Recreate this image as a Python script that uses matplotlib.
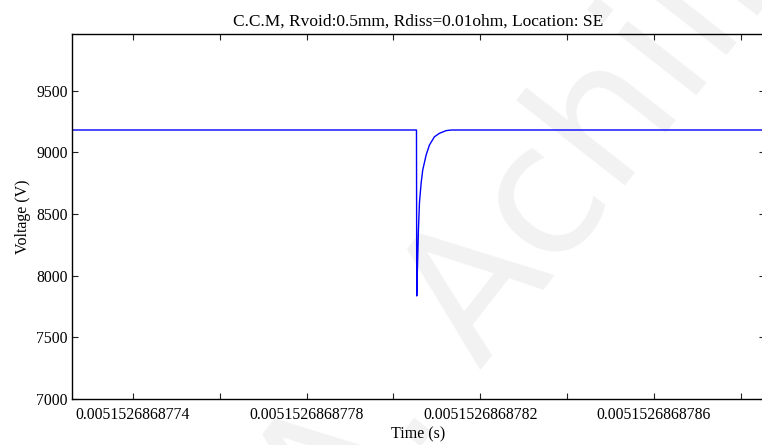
import matplotlib
matplotlib.use("Agg")
import matplotlib.pyplot as plt
from matplotlib.ticker import FixedLocator, FixedFormatter

plt.rcParams['font.family'] = ['Liberation Serif', 'DejaVu Serif']

# voltage trace (time in s, voltage in V)
time = [0.00515268687725, 0.005152686878053, 0.0051526868780536,
        0.0051526868780545, 0.0051526868780575, 0.0051526868780598,
        0.0051526868780637, 0.0051526868780674, 0.0051526868780752,
        0.0051526868780828, 0.0051526868780943, 0.0051526868781058,
        0.0051526868781212, 0.0051526868781334, 0.0051526868789]
voltage = [9180, 9180, 7835, 7964, 8370, 8588, 8750, 8856, 8977,
           9058, 9125, 9153, 9175, 9180, 9180]

xticks_major = [0.0051526868774, 0.0051526868778, 0.0051526868782, 0.0051526868786]
xtick_labels = ['0.0051526868774', '0.0051526868778', '0.0051526868782', '0.0051526868786']
xticks_minor = [0.0051526868776, 0.005152686878, 0.0051526868784, 0.0051526868788]
yticks = [7000, 7500, 8000, 8500, 9000, 9500]

title = 'C.C.M, Rvoid:0.5mm, Rdiss=0.01ohm, Location: SE'

fig = plt.figure(figsize=(7.62, 4.45), dpi=100)
ax = fig.add_axes([72/762, 46/445, 693/762, 365/445])

ax.plot(time, voltage, color='#0000ff', lw=1.0, zorder=2)

ax.set_xlim(0.0051526868772598, 0.0051526868788555)
ax.set_ylim(7000, 9958)

ax.xaxis.set_major_locator(FixedLocator(xticks_major))
ax.xaxis.set_major_formatter(FixedFormatter(xtick_labels))
ax.xaxis.set_minor_locator(FixedLocator(xticks_minor))
ax.set_yticks(yticks)
ax.set_yticklabels([str(v) for v in yticks])

ax.tick_params(which='both', direction='in', top=True, right=True,
               length=4.5, width=0.8, labelsize=11.3, color='#222222')
ax.tick_params(axis='x', pad=6)
ax.tick_params(axis='y', pad=3)

for s in ax.spines.values():
    s.set_linewidth(1.0)

ax.set_title(title, fontsize=12.5, pad=6)
ax.set_xlabel('Time (s)', fontsize=11.5, labelpad=2)
ax.set_ylabel('Voltage (V)', fontsize=11.5, labelpad=4)

# faint watermark behind the trace
ax.text(0.70, 0.50, 'A. Achilli', transform=fig.transFigure, rotation=52,
        fontsize=130, family='DejaVu Sans', color='#f2f2f2',
        ha='center', va='center', zorder=0.5, clip_on=False)

fig.savefig('out.png', dpi=100)
